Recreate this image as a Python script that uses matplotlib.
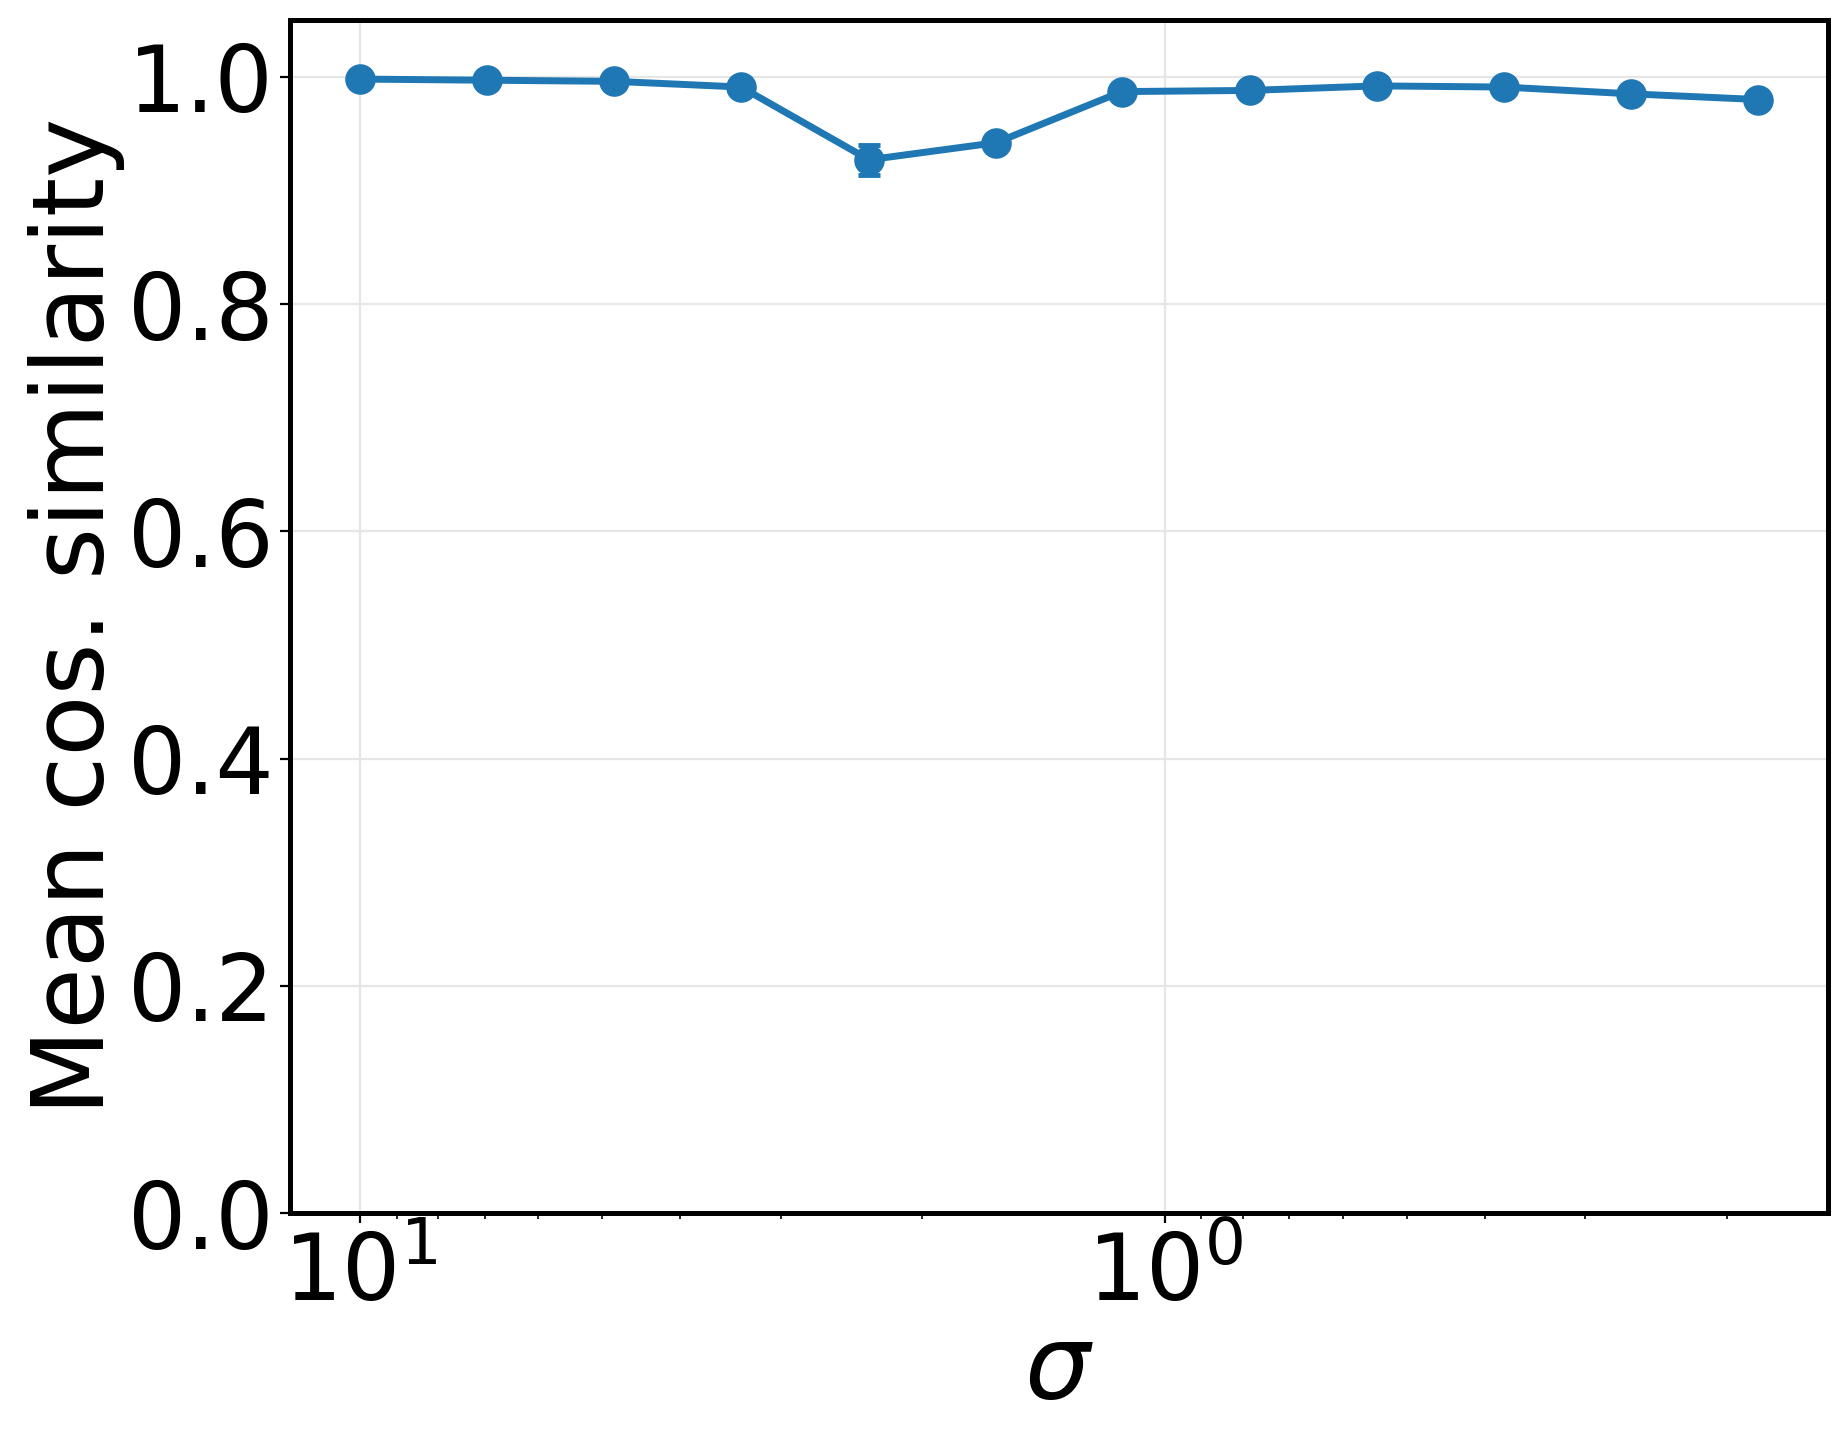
import matplotlib
matplotlib.use("Agg")
import matplotlib.pyplot as plt

sigma = [10.0, 6.95, 4.83, 3.36, 2.33, 1.62, 1.13, 0.784, 0.545, 0.379, 0.263, 0.183]
mean_cos = [0.998, 0.997, 0.996, 0.991, 0.927, 0.942, 0.987, 0.988, 0.992, 0.991, 0.985, 0.980]
err = [0.001, 0.001, 0.001, 0.002, 0.013, 0.003, 0.002, 0.002, 0.001, 0.001, 0.002, 0.002]

fig = plt.figure(figsize=(18.47, 14.48), dpi=100)
ax = fig.add_axes([290/1847, 1 - 1213/1448, (1828-290)/1847, (1213-20)/1448])

ax.errorbar(sigma, mean_cos, yerr=err, color="#1f77b4", marker="o", markersize=21,
            linewidth=5, elinewidth=3.5, capsize=8, capthick=3.5)
ax.set_xscale("log")
ax.invert_xaxis()
ax.set_ylim(0, 1.05)
ax.set_yticks([0.0, 0.2, 0.4, 0.6, 0.8, 1.0])
ax.grid(True, which="major", color="#e6e6e6", linewidth=1.6)
ax.set_axisbelow(True)
for s in ax.spines.values():
    s.set_linewidth(3.6)
ax.tick_params(axis="both", which="major", labelsize=66, length=7, width=1.6, pad=5)
ax.tick_params(axis="both", which="minor", length=4, width=1.2)
ax.set_ylabel("Mean cos. similarity", fontsize=72, labelpad=2)
ax.set_xlabel(r"$\sigma$", fontsize=74, labelpad=0)

fig.savefig("out.png", dpi=100)
